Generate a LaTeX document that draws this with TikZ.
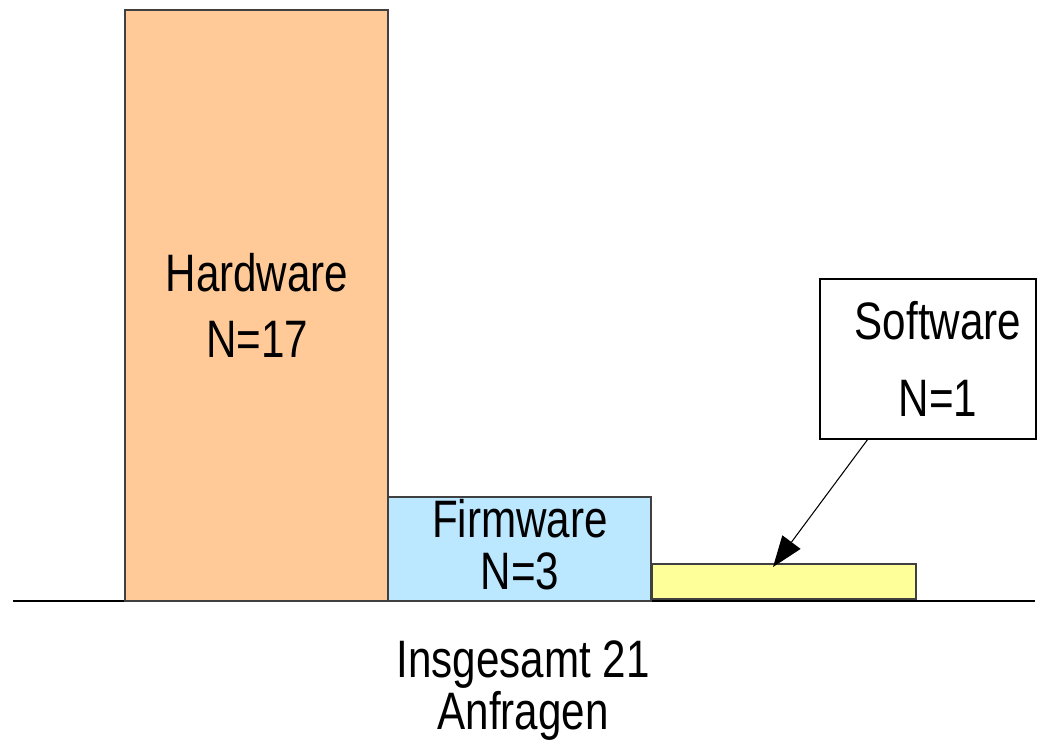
\documentclass[tikz,border=0pt]{standalone}
\usepackage{fontspec}
\setmainfont[FakeStretch=0.8]{Liberation Sans}
\usetikzlibrary{arrows.meta,positioning,fit,calc}

\definecolor{hwfill}{HTML}{FFCA97}
\definecolor{fwfill}{HTML}{BBE7FF}
\definecolor{swfill}{HTML}{FFFF99}

\begin{document}
\begin{tikzpicture}[x=0.02cm, y=-0.02cm,
            bar/.style={draw=black!75, line width=0.9pt, inner sep=0pt, outer sep=0pt}, % the bars of the chart
            txt/.style={align=center, anchor=south, inner sep=0pt, text depth=0pt}, % south = baseline of last line
        ]
        \useasboundingbox (0,0) rectangle (1038,744);

        % base line
        \coordinate (axl) at (13,601);
        \coordinate (axr) at (1035,601);
        \draw[line width=1pt] (axl) -- (axr);

        \node (hw) [bar, fill=hwfill, fit={(125,10) (388,601)}]  {};
        \node (fw) [bar, fill=fwfill, fit={(388,497) (651,601)}] {};
        \node (sw) [bar, fill=swfill, fit={(652,564) (916,599)}] {};
        \node (swlabel) [bar, draw=black, fill=white, fit={(820,279) (1036,439)}] {};

        \node (hwtext) [txt, font=\fontsize{30}{37.5}\selectfont] at (257,358) {Hardware\\N=17};
        \node (fwtext) [txt, font=\fontsize{30}{29.5}\selectfont] at (520,590) {Firmware\\N=3};
        \node (swtext) [txt, font=\fontsize{30}{43.8}\selectfont] at (938,417) {Software\\N=1};

        \coordinate (swtip) at (773,567);
        \draw[-{Triangle[length=0.62cm,width=0.45cm]}, line width=0.6pt]
            ($(swlabel.south west)+(48,0)$) -- (swtip);

        \node (total) [txt, font=\fontsize{30}{29.5}\selectfont] at (523,730) {Insgesamt 21\\Anfragen};
    \end{tikzpicture}
\end{document}
